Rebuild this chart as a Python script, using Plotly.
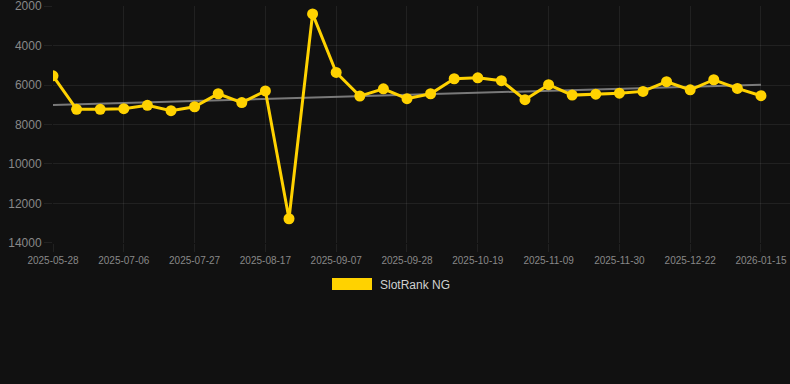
import plotly.graph_objects as go

dates = [
    "2025-05-28", "2025-06-10", "2025-06-23", "2025-07-06", "2025-07-13", "2025-07-20",
    "2025-07-27", "2025-08-03", "2025-08-10", "2025-08-17", "2025-08-24", "2025-08-31",
    "2025-09-07", "2025-09-14", "2025-09-21", "2025-09-28", "2025-10-05", "2025-10-12",
    "2025-10-19", "2025-10-26", "2025-11-02", "2025-11-09", "2025-11-16", "2025-11-23",
    "2025-11-30", "2025-12-07", "2025-12-14", "2025-12-22", "2025-12-29", "2026-01-05",
    "2026-01-15",
]
ranks = [
    5530, 7230, 7230, 7200, 7030, 7300, 7100, 6440, 6890, 6300, 12780, 2390,
    5360, 6560, 6190, 6690, 6440, 5680, 5630, 5780, 6740, 5980, 6510, 6460,
    6410, 6320, 5830, 6240, 5730, 6170, 6540,
]
trend_values = [7010, 5980]
y_ticks = [2000, 4000, 6000, 8000, 10000, 12000, 14000]
y_tick_labels = [str(v) for v in y_ticks]
x_tick_labels = dates[::3]
series_name = "SlotRank NG"

GOLD = "#FFD200"
BG = "#111111"
GRID = "rgba(255,255,255,0.07)"
FONT = "Liberation Sans, Arial, sans-serif"

fig = go.Figure()
fig.add_trace(go.Scatter(
    x=[dates[0], dates[-1]], y=trend_values, mode="lines",
    line=dict(color="rgba(140,140,140,0.85)", width=2),
    hoverinfo="skip", showlegend=False,
))
fig.add_trace(go.Scatter(
    x=dates, y=ranks, mode="lines+markers", name=series_name,
    line=dict(color=GOLD, width=3),
    marker=dict(color=GOLD, size=11),
    showlegend=False,
))

L, R, T, B = 53, 0, 6, 141
W, H = 790, 384
pw, ph = W - L - R, H - T - B

def px_x(x):
    return (x - L) / pw

def px_y(y):
    return (H - B - y) / ph

fig.add_shape(type="rect", xref="paper", yref="paper",
              x0=px_x(332), x1=px_x(372), y0=px_y(290), y1=px_y(278),
              fillcolor=GOLD, line=dict(width=0))
fig.add_annotation(xref="paper", yref="paper", x=px_x(378), y=px_y(284.5),
                   text=series_name, showarrow=False, xanchor="left", yanchor="middle",
                   font=dict(family=FONT, size=12, color="#d0d0d0"))

fig.update_layout(
    width=W, height=H,
    margin=dict(l=L, r=R, t=T, b=B, pad=0),
    paper_bgcolor=BG, plot_bgcolor=BG,
    font=dict(family=FONT, color="#888888"),
    xaxis=dict(
        type="category", categoryorder="array", categoryarray=dates,
        range=[0, 31.23],
        tickmode="array", tickvals=x_tick_labels, ticktext=x_tick_labels,
        showgrid=True, gridcolor=GRID, gridwidth=1,
        ticks="outside", ticklen=8, tickcolor=GRID,
        tickfont=dict(size=10, color="#888888"),
        showline=False, zeroline=False, ticklabeloverflow="allow",
    ),
    yaxis=dict(
        range=[14010, 1990], tickmode="array", tickvals=y_ticks, ticktext=y_tick_labels,
        showgrid=True, gridcolor=GRID, gridwidth=1,
        ticks="outside", ticklen=8, tickcolor=GRID,
        tickfont=dict(size=12, color="#888888"),
        showline=False, zeroline=False, ticklabeloverflow="allow",
    ),
)

fig.write_html(
    "out.html",
    config={"displayModeBar": False},
    post_script="document.body.style.margin='0';document.body.style.background='#111111';",
)
